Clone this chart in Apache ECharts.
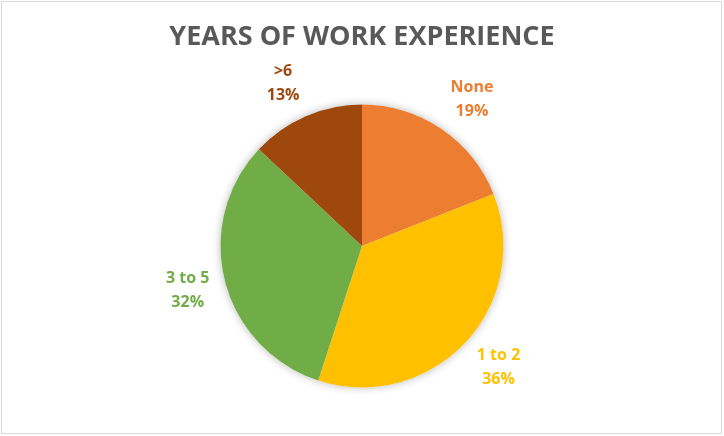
<!DOCTYPE html>
<html>
<head>
<meta charset="utf-8">
<script src="https://cdn.jsdelivr.net/npm/echarts@6/dist/echarts.min.js"></script>
<style>
html,body{margin:0;padding:0;background:#fff;}
#chart{position:absolute;left:0;top:0;width:724px;height:436px;}
#frame{position:absolute;left:1px;top:1px;width:721px;height:433px;box-sizing:border-box;border:1px solid #d9d9d9;pointer-events:none;}
</style>
</head>
<body>
<div id="chart"></div>
<div id="frame"></div>
<script>
const titleText = 'YEARS OF WORK EXPERIENCE';
const categories = ['None', '1 to 2', '3 to 5', '>6'];
const values = [19, 36, 32, 13];
const colors = ['#ED7D31', '#FFC000', '#70AD47', '#9E480E'];

const CX = 362, CY = 246, R = 141.5, GAP = 16;
const total = values.reduce((a, b) => a + b, 0);

function midAngle(i) {
  let before = 0;
  for (let k = 0; k < i; k++) before += values[k];
  return (before + values[i] / 2) / total * Math.PI * 2;
}

const chart = echarts.init(document.getElementById('chart'));
chart.setOption({
  backgroundColor: '#fff',
  animation: false,
  title: {
    text: titleText,
    left: 'center',
    top: 19,
    textStyle: { fontFamily: 'Open Sans', fontWeight: 'bold', fontSize: 27, color: '#595959' }
  },
  series: [{
    type: 'pie',
    silent: true,
    z: 1,
    center: [CX, CY],
    radius: R,
    startAngle: 90,
    itemStyle: { color: '#fff', shadowBlur: 8, shadowColor: 'rgba(0,0,0,0.28)' },
    label: { show: false },
    labelLine: { show: false },
    data: [{ value: 1 }]
  }, {
    type: 'pie',
    z: 2,
    center: [CX, CY],
    radius: R,
    startAngle: 90,
    clockwise: true,
    itemStyle: { borderWidth: 0 },
    emphasis: { disabled: true },
    label: {
      show: true,
      position: 'outside',
      formatter: p => p.name + '\n' + Math.round(p.percent) + '%',
      fontFamily: 'Open Sans',
      fontWeight: 'bold',
      fontSize: 16,
      lineHeight: 24
    },
    labelLine: { show: false },
    labelLayout: function (params) {
      const m = midAngle(params.dataIndex);
      const dx = Math.sin(m), dy = -Math.cos(m);
      const w = params.labelRect.width, h = params.labelRect.height - 12;
      const px = CX + (R + GAP) * dx, py = CY + (R + GAP) * dy;
      return {
        x: px + Math.sign(dx) * w / 2,
        y: py + dy * (h / 2 + 2),
        align: 'center',
        verticalAlign: 'middle'
      };
    },
    data: categories.map((c, i) => ({
      name: c,
      value: values[i],
      itemStyle: { color: colors[i] },
      label: { color: colors[i] }
    }))
  }]
});
</script>
</body>
</html>
